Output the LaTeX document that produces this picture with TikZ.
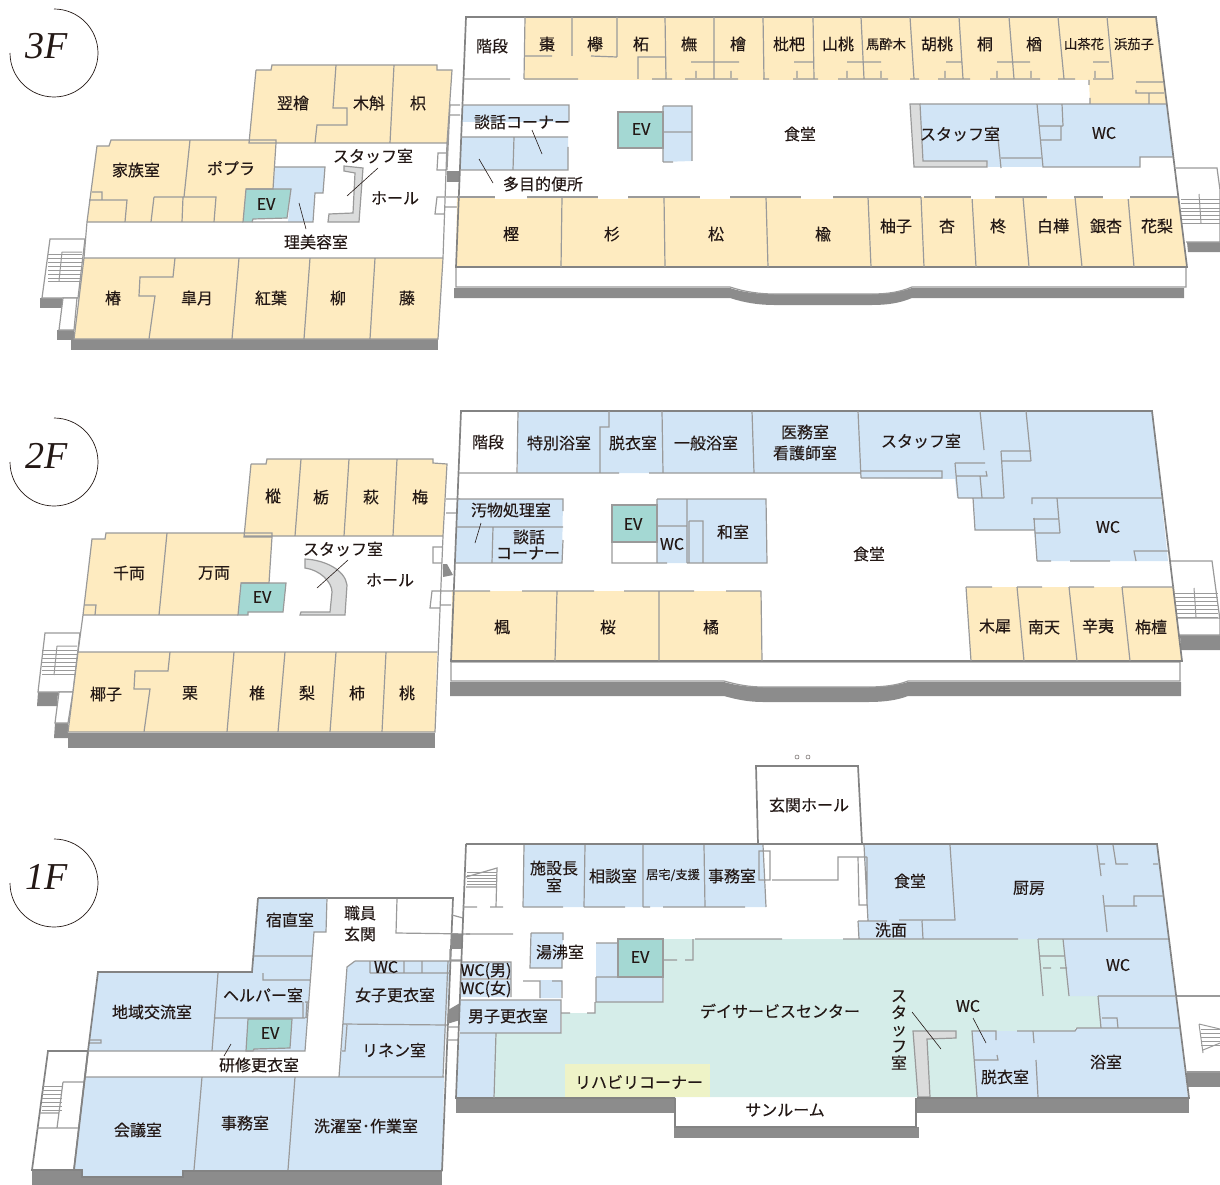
\documentclass[tikz,border=0pt]{standalone}
\usepackage{fontspec}
\setmainfont{Noto Sans CJK JP}[FakeBold=0.25]
\newfontfamily\flfont{Liberation Serif}
\definecolor{cream}{HTML}{FEEBC0}
\definecolor{bluer}{HTML}{D2E5F6}
\definecolor{teal}{HTML}{A4D8D3}
\definecolor{greenr}{HTML}{D5EDE9}
\definecolor{rehab}{HTML}{EEF3C7}
\definecolor{wallc}{HTML}{9A9A9A}
\definecolor{shadowc}{HTML}{8C8C8C}
\definecolor{corec}{HTML}{DBDCDC}
\definecolor{inkc}{HTML}{231815}
\tikzset{
  wall/.style={draw=wallc,line width=1.2pt,line join=miter},
  thickwall/.style={draw=wallc!85!black,line width=1.7pt,line join=miter},
  thinline/.style={draw=wallc,line width=1pt},
  shade/.style={fill=shadowc},
  cr/.style={fill=cream},
  bl/.style={fill=bluer},
  gr/.style={fill=greenr},
  ev/.style={fill=teal,draw=wallc,line width=1.2pt},
  core/.style={fill=corec,draw=wallc,line width=1.2pt},
  lead/.style={draw=inkc,line width=.6pt},
  lab/.style={text=inkc,inner sep=0pt,font=\fontsize{16}{19}\selectfont,align=center},
  labs/.style={lab,font=\fontsize{13.3}{16}\selectfont},
  labt/.style={lab,font=\fontsize{12.2}{14}\selectfont},
  labv/.style={lab,font=\fontsize{16}{16.8}\selectfont},
  floorlab/.style={text=inkc,inner sep=0pt,font=\flfont\itshape\fontsize{38}{40}\selectfont},
  ring/.style={draw=inkc,line width=.7pt},
}
\newcommand\T[5][lab]{\node[#1] (#2) at (#3,#4) {#5};}
\begin{document}
\begin{tikzpicture}[x=1pt,y=-1pt]
\useasboundingbox (0,0) rectangle (1220,1185);
% ---------- floor rings
\draw[ring] (54,9) arc[start angle=90,end angle=-180,radius=44pt];
\draw[ring] (54,418) arc[start angle=90,end angle=-180,radius=44pt];
\draw[ring] (54,839) arc[start angle=90,end angle=-180,radius=44pt];
\T[floorlab]{f3}{47}{46}{3F}
\T[floorlab]{f2}{47}{456}{2F}
\T[floorlab]{f1}{47}{877}{1F}
% ========== 3F LEFT
\fill[shade] (71,339) rectangle (438,350);
\fill[shade] (40,298) -- (62,298) -- (62,308) -- (40,308) -- cycle;
\fill[shade] (57,330) -- (74,330) -- (74,340) -- (57,340) -- cycle;
\draw[wall,fill=white] (50,239) -- (85,239) -- (78,298) -- (42,298) -- cycle;
\draw[wall,fill=white] (63,298) -- (77,298) -- (74,330) -- (59,330) -- cycle;
\foreach \yy in {254,258,262,266,270,274,278,281} \draw[thinline] (48,\yy) -- (82,\yy);
\draw[thinline] (62,252) -- (82,252) (62,252) -- (59,281);
\fill[cr] (256,70) -- (271,70) -- (272,65) -- (437,65) -- (437,70) -- (452,70) -- (447,143) -- (249,143) -- cycle;
\fill[cr] (97,146) -- (109,146) -- (111,140) -- (276,140) -- (273,189) -- (246,189) -- (243,222) -- (87,222) -- cycle;
\fill[bl] (275,167) -- (325,167) -- (323,193) -- (315,193) -- (313,222) -- (288,222) -- (291,189) -- (273,189) -- cycle;
\fill[cr] (84,258) -- (443,258) -- (438,339) -- (74,339) -- cycle;
\draw[ev] (246,189) -- (291,189) -- (287,218) -- (253,219) -- (252,222) -- (243,222) -- cycle;
\draw[core] (344,166) -- (363,168) -- (359,222) -- (328,222) -- (329,214) -- (353,213) -- (355,173) -- (344,171) -- cycle;
\draw[wall] (256,70) -- (271,70) -- (272,65) -- (437,65) -- (437,70) -- (452,70) -- (447,143) -- (443,258) -- (438,339) -- (74,339) -- (84,258) -- (87,222) -- (97,146) -- (109,146) -- (111,140) -- (276,140) -- (276,143) -- (249,143) -- (256,70)
  (249,143) -- (447,143) (276,143) -- (273,189) -- (246,189)
  (336,65) -- (333,108) -- (347,108) -- (347,125) -- (317,125) -- (315,143)
  (394,65) -- (390,143)
  (190,140) -- (184,197)
  (92,192) -- (102,192) -- (102,200) (89,200) -- (127,200) -- (125,222)
  (154,197) -- (216,197) -- (214,222) (154,197) -- (151,222) (183,197) -- (182,222)
  (87,222) -- (243,222) (252,222) -- (313,222) -- (315,193) -- (323,193) -- (325,167) -- (275,167)
  (84,258) -- (443,258)
  (175,258) -- (173,277) -- (140,277) -- (139,296) -- (155,296) -- (149,339)
  (239,258) -- (232,339) (310,258) -- (304,339) (375,258) -- (370,339)
  (447,153) -- (438,153) -- (437,170) -- (446,170)
  (445,197) -- (437,197) -- (435,214) -- (444,214)
  (450,105) -- (447,170) (450,105) -- (460,105) (450,115) -- (460,115)
  (446,197) -- (460,197) (445,207) -- (460,207);
\fill[shadowc] (447,171) -- (460,171) -- (460,182) -- (447,182) -- cycle;
\draw[lead] (378,168) -- (347,196) (299,203) -- (306,229);
\T{a1}{293}{103}{翌檜}\T{a2}{369}{103}{木斛}\T{a3}{418}{103}{枳}
\T{a4}{136}{170}{家族室}\T{a5}{231}{168}{ポプラ}\T{a6}{266}{204}{EV}
\T{a7}{373}{156}{スタッフ室}\T{a8}{395}{198}{ホール}\T{a9}{316}{242}{理美容室}
\T{a10}{113}{298}{椿}\T{a11}{197}{298}{皐月}\T{a12}{271}{298}{紅葉}\T{a13}{338}{298}{柳}\T{a14}{407}{298}{藤}
% ========== 3F RIGHT
\fill[shade] (454,288) -- (730,288) .. controls (745,293) and (760,294) .. (774,294) -- (872,294) .. controls (888,294) and (900,292) .. (912,288) -- (1184,288) -- (1184,298) -- (912,298) .. controls (900,303) and (888,305) .. (872,305) -- (774,305) .. controls (760,305) and (745,303) .. (730,298) -- (454,298) -- cycle;
\draw[wall,fill=white] (456,267) -- (1186,267) -- (1186,287) -- (912,287) .. controls (900,292) and (888,294) .. (872,294) -- (774,294) .. controls (760,294) and (745,292) .. (730,287) -- (456,287) -- cycle;
\fill[shade] (1187,242) -- (1220,242) -- (1220,252) -- (1188,252) -- cycle;
\draw[wall,fill=white] (1176,168) -- (1217,168) -- (1220,190) -- (1220,242) -- (1186,242);
\foreach \yy in {200,204,208,211,215,219,223} \draw[thinline] (1181,\yy) -- (1220,\yy);
\draw[thinline] (1199,194) -- (1201,223);
\fill[cr] (525,17) -- (1156,17) -- (1166,104) -- (1090,104) -- (1089,80) -- (524,80) -- cycle;
\fill[cr] (457,197) -- (1178,197) -- (1187,267) -- (456,267) -- cycle;
\fill[bl] (920,104) -- (1166,104) -- (1173,157) -- (1140,157) -- (1140,167) -- (988,167) -- (987,161) -- (923,161) -- cycle;
\fill[bl] (462,105) -- (569,105) -- (569,122) -- (462,122) -- cycle;
\fill[bl] (461,137) -- (568,137) -- (568,170) -- (460,170) -- cycle;
\fill[bl] (663,106) -- (692,106) -- (692,161) -- (663,162) -- cycle;
\draw[ev] (618,112) -- (663,112) -- (663,148) -- (618,148) -- cycle;
\draw[core] (910,104) -- (920,104) -- (923,161) -- (987,161) -- (987,167) -- (914,167) -- cycle;
\draw[thickwall] (466,17) -- (1156,17) -- (1187,267) -- (456,267) -- cycle;
\draw[wall] (525,17) -- (524,79) (572,17) -- (572,56) (617,17) -- (617,57) (665,17) -- (666,79) (714,17) -- (714,79) (763,17) -- (764,79) (813,17) -- (814,79) (861,17) -- (864,79) (910,17) -- (914,79) (959,17) -- (963,79) (1009,17) -- (1014,79) (1058,17) -- (1064,79) (1107,17) -- (1113,79)
  (525,56) -- (552,56) (591,56) -- (617,57) (638,79) -- (638,57) -- (665,57)
  (691,62) -- (739,62) (696,71) -- (696,78) (731,71) -- (731,78)
  (794,62) -- (813,62) (797,71) -- (797,78)
  (847,62) -- (881,62) (847,71) -- (847,78) (881,71) -- (881,78)
  (946,62) -- (962,62) (945,71) -- (945,78)
  (997,62) -- (1030,62) (997,71) -- (997,78) (1031,71) -- (1031,78)
  (1093,62) -- (1109,62) (1095,71) -- (1095,78)
  (464,79) -- (510,79) (524,79) -- (578,79) (652,79) -- (672,79) (685,79) -- (738,79) (763,79) -- (769,79) (793,79) -- (818,79) (838,79) -- (888,79) (910,79) -- (919,79) (938,79) -- (970,79) (990,79) -- (1040,79) (1058,79) -- (1075,79) (1093,79) -- (1113,79)
  (1089,80) -- (1089,85) (1090,98) -- (1090,104)
  (1136,82) -- (1163,82) (1136,90) -- (1136,93) -- (1164,93) (1149,94) -- (1149,104)
  (920,104) -- (1166,104)
  (997,128) -- (1001,168) (1001,158) -- (1041,158) (1037,104) -- (1043,167) -- (1140,167) -- (1140,157) -- (1173,157)
  (1062,104) -- (1063,126) (1039,126) -- (1063,126) (1041,140) -- (1061,140) -- (1061,127)
  (462,105) -- (569,105) -- (569,122) (461,137) -- (568,137) (568,147) -- (568,170) -- (460,170) (514,137) -- (513,170)
  (663,106) -- (692,106) -- (692,161) (663,162) -- (673,162) (663,106) -- (663,162) (663,132) -- (692,132)
  (562,197) -- (561,267) (664,197) -- (665,267) (766,197) -- (768,267) (868,197) -- (871,267) (921,197) -- (924,267) (972,197) -- (976,267) (1023,197) -- (1029,267) (1075,197) -- (1082,267) (1128,197) -- (1134,267);
\fill[white] (495,195) rectangle (527,199) (598,195) rectangle (628,199) (700,195) rectangle (730,199) (801,195) rectangle (833,199) (971,195) rectangle (995,199) (1047,195) rectangle (1074,199) (1103,195) rectangle (1130,199);
\draw[wall] (457,197) -- (495,197) (527,197) -- (598,197) (628,197) -- (700,197) (730,197) -- (801,197) (833,197) -- (921,197) (924,197) -- (971,197) (995,197) -- (1047,197) (1074,197) -- (1103,197) (1130,197) -- (1178,197);
\draw[lead] (532,130) -- (542,154) (479,159) -- (493,183);
\T{b1}{492}{46}{階段}\T{b2}{547}{44}{棗}\T{b3}{595}{44}{欅}\T{b4}{641}{44}{柘}\T{b5}{689}{44}{橅}\T{b6}{738}{44}{檜}\T{b7}{789}{44}{枇杷}\T{b8}{838}{44}{山桃}
\T[labs]{b9}{886}{44}{馬酔木}\T{b10}{937}{44}{胡桃}\T{b11}{985}{44}{桐}\T{b12}{1034}{44}{楢}\T[labs]{b13}{1084}{44}{山茶花}\T[labs]{b14}{1134}{44}{浜茄子}
\T{b15}{522}{122}{談話コーナー}\T{b16}{543}{184}{多目的便所}\T{b17}{641}{129}{EV}\T{b18}{800}{134}{食堂}\T{b19}{960}{134}{スタッフ室}\T{b20}{1104}{133}{WC}
\T{b21}{511}{234}{樫}\T{b22}{612}{234}{杉}\T{b23}{716}{234}{松}\T{b24}{823}{234}{楡}\T{b25}{896}{226}{柚子}\T{b26}{947}{226}{杏}\T{b27}{998}{226}{柊}\T{b28}{1053}{226}{白樺}\T{b29}{1106}{226}{銀杏}\T{b30}{1157}{226}{花梨}
% ========== 2F LEFT
\fill[shade] (68,733) rectangle (435,748);
\fill[shade] (38,692) -- (58,692) -- (57,706) -- (37,706) -- cycle;
\fill[shade] (55,723) -- (68,723) -- (68,738) -- (54,738) -- cycle;
\draw[wall,fill=white] (45,633) -- (80,633) -- (73,692) -- (38,692) -- cycle;
\draw[wall,fill=white] (59,692) -- (73,692) -- (68,723) -- (55,723) -- cycle;
\foreach \yy in {650,654,658,662,666,670,674} \draw[thinline] (42,\yy) -- (77,\yy);
\draw[thinline] (57,646) -- (77,646) (57,646) -- (54,675);
\fill[cr] (251,464) -- (266,464) -- (267,459) -- (433,459) -- (433,463) -- (447,464) -- (443,536) -- (244,536) -- cycle;
\fill[cr] (92,539) -- (105,539) -- (106,533) -- (272,533) -- (269,583) -- (240,583) -- (238,615) -- (83,615) -- cycle;
\fill[cr] (78,652) -- (437,652) -- (435,732) -- (68,732) -- cycle;
\draw[ev] (241,583) -- (286,583) -- (283,612) -- (248,612) -- (248,615) -- (238,615) -- cycle;
\draw[core] (305,559) .. controls (325,560) and (345,570) .. (347,585) -- (345,615) -- (300,615) -- (301,612) -- (330,612) -- (332,592) .. controls (332,582) and (320,570) .. (305,568) -- cycle;
\draw[wall] (251,464) -- (266,464) -- (267,459) -- (433,459) -- (433,463) -- (447,464) -- (443,536) -- (435,732) -- (68,732) -- (78,652) -- (83,615) -- (92,539) -- (105,539) -- (106,533) -- (272,533) -- (272,537) -- (244,537) -- (251,464)
  (244,536) -- (443,536) (272,537) -- (269,583) -- (241,583)
  (301,459) -- (295,536) (349,459) -- (344,536) (397,459) -- (393,536)
  (167,533) -- (159,615) (84,605) -- (96,605) -- (95,615) (83,615) -- (238,615)
  (78,652) -- (437,652)
  (170,652) -- (168,671) -- (135,671) -- (134,689) -- (150,689) -- (144,732)
  (234,652) -- (227,732) (285,652) -- (278,732) (336,652) -- (330,732) (386,652) -- (382,732)
  (443,547) -- (433,547) -- (433,563) -- (442,563)
  (440,591) -- (432,591) -- (430,608) -- (439,608)
  (446,499) -- (460,499) (446,513) -- (460,513) (440,591) -- (453,591) (440,605) -- (451,605);
\fill[shadowc] (443,564) -- (447,564) -- (453,575) -- (443,577) -- cycle;
\draw[lead] (348,560) -- (317,588);
\T{c1}{273}{496}{樅}\T{c2}{321}{497}{栃}\T{c3}{371}{497}{萩}\T{c4}{420}{497}{梅}\T{c5}{343}{549}{スタッフ室}\T{c6}{390}{580}{ホール}\T{c7}{129}{573}{千両}\T{c8}{214}{573}{万両}\T{c9}{262}{597}{EV}
\T{c10}{106}{694}{椰子}\T{c11}{190}{693}{栗}\T{c12}{257}{693}{椎}\T{c13}{307}{693}{梨}\T{c14}{357}{693}{柿}\T{c15}{407}{693}{桃}
% ========== 2F RIGHT
\fill[shade] (450,682) -- (724,682) .. controls (738,686) and (750,687) .. (763,687) -- (868,687) .. controls (885,687) and (898,685) .. (908,682) -- (1181,682) -- (1181,696) -- (908,696) .. controls (898,700) and (885,702) .. (868,702) -- (763,702) .. controls (750,702) and (738,700) .. (724,696) -- (450,696) -- cycle;
\draw[wall,fill=white] (451,662) -- (1180,662) -- (1180,681) -- (908,681) .. controls (898,685) and (885,687) .. (868,687) -- (763,687) .. controls (750,687) and (738,685) .. (724,681) -- (451,681) -- cycle;
\fill[shade] (1180,635) -- (1220,635) -- (1220,650) -- (1181,650) -- cycle;
\draw[wall,fill=white] (1170,561) -- (1212,561) -- (1220,620) -- (1220,635) -- (1179,635);
\foreach \yy in {593,597,601,605,609,613,617} \draw[thinline] (1175,\yy) -- (1218,\yy);
\draw[thinline] (1194,588) -- (1196,617) (1177,618) -- (1220,618);
\fill[bl] (518,411) -- (1152,411) -- (1168,561) -- (1037,561) -- (1034,530) -- (975,530) -- (973,498) -- (957,498) -- (955,479) -- (861,478) -- (860,473) -- (518,473) -- cycle;
\fill[bl] (457,499) -- (563,499) -- (562,563) -- (455,563) -- cycle;
\fill[bl] (657,499) -- (766,499) -- (767,563) -- (657,563) -- cycle;
\fill[cr] (452,591) -- (761,591) -- (762,661) -- (451,661) -- cycle;
\fill[cr] (966,587) -- (1174,587) -- (1182,661) -- (971,661) -- cycle;
\draw[ev] (612,505) -- (657,505) -- (657,542) -- (612,542) -- cycle;
\draw[thickwall] (461,411) -- (1152,411) -- (1182,661) -- (451,661) -- cycle;
\draw[wall] (518,411) -- (517,473) (609,411) -- (609,427) -- (600,427) -- (600,473) (662,411) -- (663,473) (752,411) -- (754,473) (858,411) -- (861,478)
  (459,473) -- (619,473) (649,473) -- (861,473)
  (861,471) -- (942,471) -- (942,478) -- (861,478)
  (980,411) -- (984,450) (1026,411) -- (1031,461) (1001,451) -- (1031,451) (1001,461) -- (1031,461) (1001,451) -- (1004,498)
  (955,463) -- (985,463) (955,463) -- (958,498) (956,476) -- (987,476) -- (986,471) (980,476) -- (982,498) (958,498) -- (1004,498)
  (973,498) -- (975,530) -- (1034,530) (1034,518) -- (1037,561)
  (1032,504) -- (1032,498) -- (1162,498) (1057,498) -- (1060,533) (1033,519) -- (1058,519) (1035,533) -- (1060,533)
  (1136,561) -- (1134,551) -- (1168,551) (1037,561) -- (1051,561) (1070,561) -- (1110,561)
  (457,499) -- (563,499) -- (563,511) (457,527) -- (563,527) (493,527) -- (492,563) (455,563) -- (562,563) -- (563,540)
  (612,505) -- (612,563) -- (657,563)
  (657,499) -- (766,499) -- (767,563) -- (687,563) (687,499) -- (687,563) (657,526) -- (687,526) (689,521) -- (703,521) -- (703,563) (657,499) -- (657,563) -- (667,563) (689,521) -- (689,563)
  (557,591) -- (555,661) (659,591) -- (659,661) (761,591) -- (762,661)
  (452,591) -- (490,591) (522,591) -- (594,591) (624,591) -- (694,591) (726,591) -- (761,591)
  (966,587) -- (971,661) (1017,587) -- (1024,661) (1069,587) -- (1077,661) (1122,587) -- (1130,661)
  (966,587) -- (992,587) (1017,587) -- (1042,587) (1069,587) -- (1094,587) (1122,587) -- (1174,587);
\draw[lead] (481,523) -- (475,543);
\T{d1}{488}{442}{階段}\T{d2}{559}{443}{特別浴室}\T{d3}{633}{443}{脱衣室}\T{d4}{706}{443}{一般浴室}\T{d5}{805}{432}{医務室}\T{d6}{805}{453}{看護師室}\T{d7}{921}{441}{スタッフ室}\T{d8}{1108}{527}{WC}
\T{d9}{511}{510}{汚物処理室}\T{d10}{529}{537}{談話}\T{d11}{528}{553}{コーナー}\T{d12}{633}{524}{EV}\T{d13}{672}{544}{WC}\T{d14}{733}{532}{和室}\T{d15}{869}{554}{食堂}
\T{d16}{502}{627}{楓}\T{d17}{608}{627}{桜}\T{d18}{711}{627}{橘}\T{d19}{995}{626}{木犀}\T{d20}{1044}{627}{南天}\T{d21}{1098}{626}{辛夷}\T{d22}{1151}{627}{栴檀}
% ========== 1F LEFT
\fill[shade] (32,1171) rectangle (442,1185);
\draw[thickwall,fill=white] (48,1051) -- (88,1051) -- (74,1170) -- (32,1170) -- cycle;
\foreach \yy in {1086,1090,1094,1098,1102,1106,1110} \draw[thinline] (42,\yy) -- (62,\yy);
\draw[wall] (63,1082) -- (84,1082) (63,1082) -- (57,1128) (37,1128) -- (79,1128) (40,1113) -- (58,1113);
\fill[bl] (258,898) -- (327,898) -- (326,932) -- (314,932) -- (305,1051) -- (88,1051) -- (98,972) -- (252,972) -- cycle;
\fill[bl] (355,961) -- (450,961) -- (443,1077) -- (339,1077) -- (347,967) -- cycle;
\fill[bl] (86,1077) -- (444,1077) -- (442,1170) -- (183,1170) -- (183,1177) -- (82,1177) -- (82,1170) -- (74,1170) -- cycle;
\draw[ev] (248,1019) -- (292,1019) -- (290,1048) -- (254,1049) -- (253,1051) -- (246,1051) -- cycle;
\draw[thickwall] (258,898) -- (453,898) -- (442,1171) (258,898) -- (252,972) -- (98,972) -- (88,1051) -- (74,1170) -- (82,1170) -- (82,1177) -- (183,1177) -- (183,1171) -- (442,1171);
\draw[wall] (327,898) -- (326,932) -- (314,932) -- (305,1051) -- (88,1051)
  (312,956) -- (254,956) (310,980) -- (263,980) -- (263,973)
  (218,973) -- (212,1051) (215,1018) -- (305,1018)
  (90,1040) -- (101,1040) -- (101,1043) -- (90,1043)
  (305,1002) -- (308,1002) (303,1002) -- (303,1018) (307,1002) -- (306,1018)
  (397,899) -- (396,933) -- (470,934)
  (355,961) -- (462,961) (355,961) -- (347,967) -- (339,1077)
  (370,973) -- (450,973) (370,961) -- (370,973) (404,961) -- (404,973) (422,961) -- (422,973)
  (343,1024) -- (447,1025) (347,1025) -- (345,1051) -- (342,1051)
  (448,961) -- (443,1077) (86,1077) -- (444,1077)
  (202,1077) -- (194,1170) (295,1077) -- (288,1170)
  (452,915) -- (463,918)
  (450,949) -- (450,960) -- (462,960) (447,1027) -- (459,1027) (447,1040) -- (459,1040);
\fill[shadowc] (451,934) rectangle (462,949);
\fill[shadowc] (448,1010) -- (460,1003) -- (460,1020) -- (447,1024) -- cycle;
\draw[lead] (231,1044) -- (224,1056);
\T{e1}{290}{920}{宿直室}\T{e2}{360}{913}{職員}\T{e3}{360}{934}{玄関}\T{e4}{386}{967}{WC}\T{e5}{152}{1012}{地域交流室}\T{e6}{263}{995}{ヘルパー室}\T{e7}{395}{995}{女子更衣室}\T{e8}{270}{1033}{EV}\T{e9}{394}{1050}{リネン室}\T{e10}{259}{1065}{研修更衣室}\T{e11}{138}{1130}{会議室}\T{e12}{245}{1123}{事務室}\T{e13}{366}{1126}{洗濯室･作業室}
% ========== 1F RIGHT
\fill[shade] (456,1099) rectangle (675,1113);
\fill[shade] (917,1099) rectangle (1189,1113);
\fill[shade] (674,1127) rectangle (919,1138);
\fill[shade] (1187,1072) rectangle (1220,1087);
\draw[wall,fill=white] (1177,996) -- (1220,996) (1187,1072) -- (1220,1072);
\foreach \yy in {1029,1033,1037,1041,1045} \draw[thinline] (1201,\yy) -- (1220,\yy);
\draw[thinline] (1199,1024) -- (1203,1053) (1199,1024) -- (1220,1029) (1203,1050) -- (1220,1043);
\draw[thickwall,fill=white] (756,766) -- (858,766) -- (862,844) -- (758,844) -- cycle;
\draw[inkc!70,line width=.5pt] (797,757) circle[radius=2pt] (808,757) circle[radius=2pt];
\fill[bl] (524,845) -- (763,845) -- (766,907) -- (523,907) -- cycle;
\fill[bl] (531,933) -- (563,933) -- (562,968) -- (530,968) -- cycle;
\fill[bl] (462,962) -- (511,962) -- (511,978) -- (460,978) -- cycle;
\fill[bl] (460,980) -- (511,980) -- (510,997) -- (460,997) -- cycle;
\fill[bl] (540,980) -- (562,980) -- (561,998) -- (540,998) -- cycle;
\fill[bl] (460,1000) -- (561,1000) -- (561,1033) -- (460,1033) -- cycle;
\fill[bl] (460,1033) -- (496,1033) -- (494,1097) -- (456,1097) -- cycle;
\fill[bl] (596,943) -- (618,943) -- (618,977) -- (596,977) -- cycle;
\fill[bl] (596,977) -- (663,977) -- (663,1002) -- (596,1002) -- cycle;
\fill[gr] (664,939) -- (1063,939) -- (1069,996) -- (1098,996) -- (1101,1028) -- (1075,1028) -- (1075,1031) -- (972,1031) -- (977,1097) -- (494,1097) -- (495,1033) -- (562,1033) -- (562,1013) -- (595,1013) -- (595,1002) -- (664,1002) -- cycle;
\fill[bl] (864,845) -- (1157,845) -- (1188,1097) -- (977,1097) -- (972,1031) -- (1075,1031) -- (1077,1028) -- (1101,1028) -- (1098,996) -- (1069,996) -- (1063,939) -- (859,939) -- (858,921) -- (868,921) -- cycle;
\fill[gr] (1038,939) -- (1063,939) -- (1069,996) -- (1043,996) -- cycle;
\fill[rehab] (565,1064) rectangle (710,1097);
\draw[ev] (618,939) -- (663,939) -- (663,977) -- (618,977) -- cycle;
\draw[core] (913,1031) -- (956,1031) -- (956,1038) -- (927,1039) -- (930,1097) -- (918,1097) -- cycle;
\draw[thickwall,fill=white] (675,1098) -- (675,1127) -- (916,1127) -- (916,1098);
\draw[thickwall] (466,844) -- (1157,844) -- (1189,1098) -- (917,1098) (675,1098) -- (456,1098) -- (466,844);
\foreach \yy in {872,875,878,881,884} \draw[thinline] (467,\yy) -- (497,\yy);
\draw[wall] (524,845) -- (523,907) (585,845) -- (584,907) (643,845) -- (643,907) (704,845) -- (705,907) (763,845) -- (766,907)
  (463,907) -- (477,907) (490,907) -- (503,907) (523,907) -- (563,907) (584,907) -- (625,907) (643,907) -- (650,907) (663,907) -- (745,907)
  (466,877) -- (497,868) -- (496,907) (466,887) -- (497,887) (466,934) -- (513,934)
  (531,933) -- (563,933) -- (563,940) (562,958) -- (562,968) -- (530,968) -- (531,933)
  (596,943) -- (618,943) (596,977) -- (663,977) -- (663,1002) -- (596,1002) -- (596,977)
  (664,960) -- (677,960) (685,960) -- (693,960) -- (693,939)
  (695,939) -- (782,939) (843,939) -- (1018,939) (1038,939) -- (1168,939)
  (462,962) -- (511,962) -- (511,978) (462,979) -- (511,979) -- (511,997)
  (523,981) -- (540,981) -- (540,998) (552,981) -- (562,981) -- (562,998)
  (460,1000) -- (561,1000) -- (561,1033) -- (460,1033) (496,1033) -- (494,1098)
  (561,1013) -- (570,1013) (587,1013) -- (595,1013) -- (595,1002)
  (772,880) -- (838,880) -- (838,857) -- (864,857) (864,845) -- (868,921)
  (759,851) -- (770,851) -- (770,880) -- (759,880) -- cycle
  (858,857) -- (867,857) (867,857) -- (867,905) -- (859,905) -- (858,857)
  (950,845) -- (955,920) -- (899,920) (858,921) -- (887,921) (858,921) -- (859,939) (922,921) -- (923,939)
  (1097,845) -- (1101,876) (1100,864) -- (1105,864) (1113,845) -- (1116,864) -- (1128,864) (1153,864) -- (1158,864)
  (1103,895) -- (1107,932) (1105,906) -- (1137,906) (1134,906) -- (1134,896) -- (1163,896)
  (1038,939) -- (1043,996) (1063,939) -- (1069,996) (1040,956) -- (1065,956) (1043,968) -- (1051,968) (1060,968) -- (1067,968)
  (1098,996) -- (1175,996) (1098,996) -- (1101,1028) (1102,1018) -- (1117,1018) -- (1118,1028) (1101,1028) -- (1180,1028) -- (1077,1028) -- (1075,1031) -- (1017,1031)
  (996,1040) -- (996,1031) -- (972,1031) -- (977,1097) (974,1060) -- (998,1060) -- (997,1055) (1033,1031) -- (1034,1043) (1036,1060) -- (1038,1097);
\draw[lead] (973,1018) -- (986,1043) (912,1012) -- (941,1049);
\T{g1}{809}{805}{玄関ホール}\T{g2}{554}{868}{施設長}\T{g3}{554}{885}{室}\T{g4}{613}{876}{相談室}\T[labt]{g5}{673}{875}{居宅/支援}\T{g6}{732}{876}{事務室}
\T{g7}{910}{881}{食堂}\T{g8}{1029}{888}{厨房}\T{g9}{891}{930}{洗面}\T{g10}{1118}{965}{WC}\T{g11}{560}{952}{湯沸室}\T{g12}{640}{957}{EV}
\T{g13}{486}{971}{WC(男)}\T{g14}{486}{989}{WC(女)}\T{g15}{508}{1016}{男子更衣室}\T{g16}{780}{1011}{デイサービスセンター}
\T[labv]{g17}{899}{1030}{ス\\タ\\ッ\\フ\\室}\T{g18}{968}{1006}{WC}\T{g19}{1005}{1077}{脱衣室}\T{g20}{1106}{1062}{浴室}\T{g21}{639}{1082}{リハビリコーナー}\T{g22}{785}{1110}{サンルーム}
\end{tikzpicture}
\end{document}
